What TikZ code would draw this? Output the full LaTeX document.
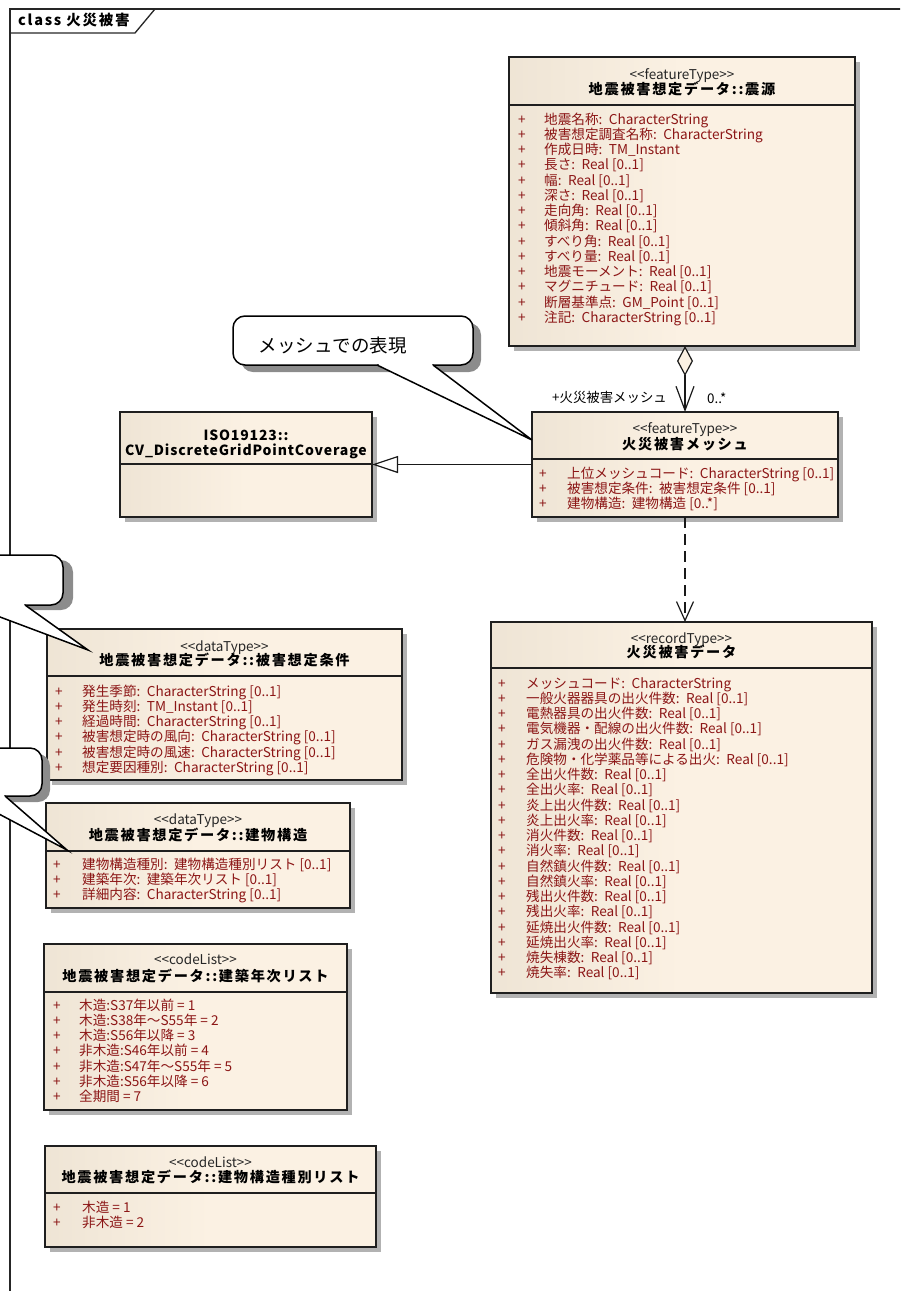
\documentclass[tikz,border=0pt]{standalone}
\usepackage{fontspec}
\setmainfont{Noto Sans CJK JP}
\newfontfamily\namefont{Noto Sans CJK JP}[LetterSpace=12]
\newfontfamily\isofont{Noto Sans CJK JP}[LetterSpace=6]
\newfontfamily\plainfont{Noto Sans CJK JP}[Ligatures=TeXOff]
\usetikzlibrary{arrows.meta,shadows}

\definecolor{cL}{RGB}{226,216,199}
\definecolor{cR}{RGB}{251,241,227}
\definecolor{attrred}{RGB}{140,22,22}
\pgfdeclarehorizontalshading{classfill}{100bp}{color(0bp)=(cL); color(50bp)=(cR); color(100bp)=(cR)}

% class box: name, left, top, right, bottom, divider
\newcommand\umlclass[6]{%
  \node[classbox, anchor=north west, minimum width={(#4-#2)*1pt}, minimum height={(#5-#3)*1pt}] (#1) at (#2,#3) {};
  \draw[classline] (#2,#6) -- (#4,#6);}
% header: name, centre x, stereotype baseline, stereotype, name baseline, class name
\newcommand\classhead[6]{%
  \node[stereo] (#1-st) at (#2,#3) {<<#4>>};
  \node[cname] (#1-nm) at (#2,#5) {#6};}
% "name: type" with a wider gap after the colon
\def\splitattr#1: #2\endattr{#1:\hspace{6.5pt}#2}
% attributes: name, plus x, text x, first baseline, list
\newcommand\attrlist[5]{%
  \foreach \t [count=\i] in {#5}{%
    \node[attrtxt] (#1-p\i) at (#2,{#4+15.25*(\i-1)}) {+};
    \node[attrtxt] (#1-a\i) at (#3,{#4+15.25*(\i-1)}) {\expandafter\splitattr\t\endattr};
  }}
% enumeration literals: name, plus x, text x, first baseline, list
\newcommand\literallist[5]{%
  \foreach \t [count=\i] in {#5}{%
    \node[attrtxt] (#1-p\i) at (#2,{#4+15.25*(\i-1)}) {+};
    \node[attrtxt] (#1-a\i) at (#3,{#4+15.25*(\i-1)}) {\t};
  }}

\begin{document}
\begin{tikzpicture}[x=1pt,y=-1pt,
  classbox/.style={draw=black!88, line width=1.3pt, shade, shading=classfill, inner sep=0pt, outer sep=0pt,
    drop shadow={shadow xshift=5pt, shadow yshift=-5pt, fill=black!30, opacity=1}},
  classline/.style={draw=black!88, line width=1.3pt},
  stereo/.style={anchor=base, inner sep=0pt, font=\plainfont\fontsize{13.5}{13.5}\selectfont, text=black!85},
  cname/.style={anchor=base, inner sep=0pt, font=\namefont\bfseries\fontsize{14.2}{14.2}\selectfont},
  isoname/.style={anchor=base, inner sep=0pt, font=\isofont\bfseries\fontsize{14}{14}\selectfont},
  attrtxt/.style={anchor=base west, inner sep=0pt, font=\fontsize{13.6}{15}\selectfont, text=attrred},
  role/.style={inner sep=0pt, font=\fontsize{13.4}{13.4}\selectfont},
  link/.style={draw=black!90, line width=1.2pt},
  calloutline/.style={draw=black, line width=1.5pt, fill=white},
  calloutshadow/.style={fill=black!45},
  frameline/.style={draw=black!85, line width=1.3pt}
]
\useasboundingbox (0,0) rectangle (900,1291);
\clip (0,0) rectangle (900,1291);

% diagram frame and its tab
\draw[frameline] (10,1300) -- (10,9) -- (910,9);
\draw[frameline] (10,33) -- (135,33) -- (155,9);
\node[anchor=base west, inner sep=0pt, font=\namefont\bfseries\fontsize{14.5}{14.5}\selectfont] (frametitle) at (18,25.5) {class 火災被害};

% 震源
\umlclass{src}{509}{57}{855}{346}{105}
\classhead{src}{682}{79}{featureType}{94.5}{地震被害想定データ::震源}
\attrlist{src}{518}{544}{124}{{地震名称: CharacterString},{被害想定調査名称: CharacterString},{作成日時: TM\_Instant},{長さ: Real [0..1]},{幅: Real [0..1]},{深さ: Real [0..1]},{走向角: Real [0..1]},{傾斜角: Real [0..1]},{すべり角: Real [0..1]},{すべり量: Real [0..1]},{地震モーメント: Real [0..1]},{マグニチュード: Real [0..1]},{断層基準点: GM\_Point [0..1]},{注記: CharacterString [0..1]}}

% ISO19123 coverage
\umlclass{iso}{120}{412}{372}{517}{464}
\node[isoname] (iso-n1) at (246,440) {ISO19123::};
\node[isoname] (iso-n2) at (246,455) {CV\_DiscreteGridPointCoverage};

% 火災被害メッシュ
\umlclass{mesh}{532}{412}{838}{517}{459}
\classhead{mesh}{685}{433}{featureType}{449.5}{火災被害メッシュ}
\attrlist{mesh}{539}{567}{478}{{上位メッシュコード: CharacterString [0..1]},{被害想定条件: 被害想定条件 [0..1]},{建物構造: 建物構造 [0..*]}}

% 火災被害データ
\umlclass{rec}{491}{622}{872}{993}{668}
\classhead{rec}{681.5}{643}{recordType}{657.5}{火災被害データ}
\attrlist{rec}{498}{526}{688}{{メッシュコード: CharacterString},{一般火器器具の出火件数: Real [0..1]},{電熱器具の出火件数: Real [0..1]},{電気機器・配線の出火件数: Real [0..1]},{ガス漏洩の出火件数: Real [0..1]},{危険物・化学薬品等による出火: Real [0..1]},{全出火件数: Real [0..1]},{全出火率: Real [0..1]},{炎上出火件数: Real [0..1]},{炎上出火率: Real [0..1]},{消火件数: Real [0..1]},{消火率: Real [0..1]},{自然鎮火件数: Real [0..1]},{自然鎮火率: Real [0..1]},{残出火件数: Real [0..1]},{残出火率: Real [0..1]},{延焼出火件数: Real [0..1]},{延焼出火率: Real [0..1]},{焼失棟数: Real [0..1]},{焼失率: Real [0..1]}}

% 被害想定条件
\umlclass{cond}{47}{629}{402}{780}{676}
\classhead{cond}{224.5}{651}{dataType}{665.5}{地震被害想定データ::被害想定条件}
\attrlist{cond}{55}{82}{696}{{発生季節: CharacterString [0..1]},{発生時刻: TM\_Instant [0..1]},{経過時間: CharacterString [0..1]},{被害想定時の風向: CharacterString [0..1]},{被害想定時の風速: CharacterString [0..1]},{想定要因種別: CharacterString [0..1]}}

% 建物構造
\umlclass{bldg}{46}{803}{350}{908}{851}
\classhead{bldg}{198}{824}{dataType}{840.5}{地震被害想定データ::建物構造}
\attrlist{bldg}{53}{82}{869}{{建物構造種別: 建物構造種別リスト [0..1]},{建築年次: 建築年次リスト [0..1]},{詳細内容: CharacterString [0..1]}}

% 建築年次リスト
\umlclass{year}{44}{944}{347}{1110}{992}
\classhead{year}{195.5}{964}{codeList}{981.5}{地震被害想定データ::建築年次リスト}
\literallist{year}{53}{79}{1010}{{木造:S37年以前 = 1},{木造:S38年～S55年 = 2},{木造:S56年以降 = 3},{非木造:S46年以前 = 4},{非木造:S47年～S55年 = 5},{非木造:S56年以降 = 6},{全期間 = 7}}

% 建物構造種別リスト
\umlclass{kind}{45}{1146}{376}{1247}{1193}
\classhead{kind}{210.5}{1167}{codeList}{1182.5}{地震被害想定データ::建物構造種別リスト}
\literallist{kind}{53}{82}{1212}{{木造 = 1},{非木造 = 2}}

% relations
\draw[link, {Diamond[length=30pt,width=16pt,fill=cR]}-{Straight Barb[length=24pt,width=18pt]}] (mesh.north |- src.south) -- (mesh.north);
\node[role, anchor=base east] (role-name) at (667,402) {+火災被害メッシュ};
\node[role, anchor=base west] (role-mult) at (707,403) {0..*};
\draw[link, -{Triangle[length=26pt,width=17pt,fill=white]}] (mesh.west) -- (iso.east);
\draw[link, dash pattern=on 11pt off 6pt, -{Straight Barb[length=19pt,width=17pt]}] (mesh.south) -- (mesh.south |- rec.north);

% callout on the mesh class
\coordinate (note1-tip) at (532,440);
\fill[calloutshadow, rounded corners=12] (241,323) rectangle (481,372);
\draw[calloutline, rounded corners=12] (233,316) rectangle (473,365);
\fill[white] (377,365) -- (note1-tip) -- (433,365) -- cycle;
\fill[white] (378.5,364) rectangle (431.5,366.5);
\draw[calloutline, fill=none, line join=miter] (377,365) -- (note1-tip) -- (433,365);
\node[inner sep=0pt, anchor=base, font=\fontsize{18.5}{19}\selectfont] (note1) at (332.5,352.5) {メッシュでの表現};

% callout on 被害想定条件
\coordinate (note2-tip) at (88,650);
\fill[calloutshadow, rounded corners=12] (-190,560) rectangle (73,610);
\draw[calloutline, rounded corners=12] (-200,555) rectangle (63,605);
\fill[white] (-32,605) -- (note2-tip) -- (25,605) -- cycle;
\fill[white] (-30.5,604) rectangle (23.5,606.5);
\draw[calloutline, fill=none, line join=miter] (-32,605) -- (note2-tip) -- (25,605);

% callout on 建物構造
\coordinate (note3-tip) at (67,850);
\fill[calloutshadow, rounded corners=12] (-192,754) rectangle (50,802);
\draw[calloutline, rounded corners=12] (-200,748) rectangle (42,796);
\fill[white] (-35,796) -- (note3-tip) -- (5,796) -- cycle;
\fill[white] (-33.5,795) rectangle (3.5,797.5);
\draw[calloutline, fill=none, line join=miter] (-35,796) -- (note3-tip) -- (5,796);
\end{tikzpicture}
\end{document}
